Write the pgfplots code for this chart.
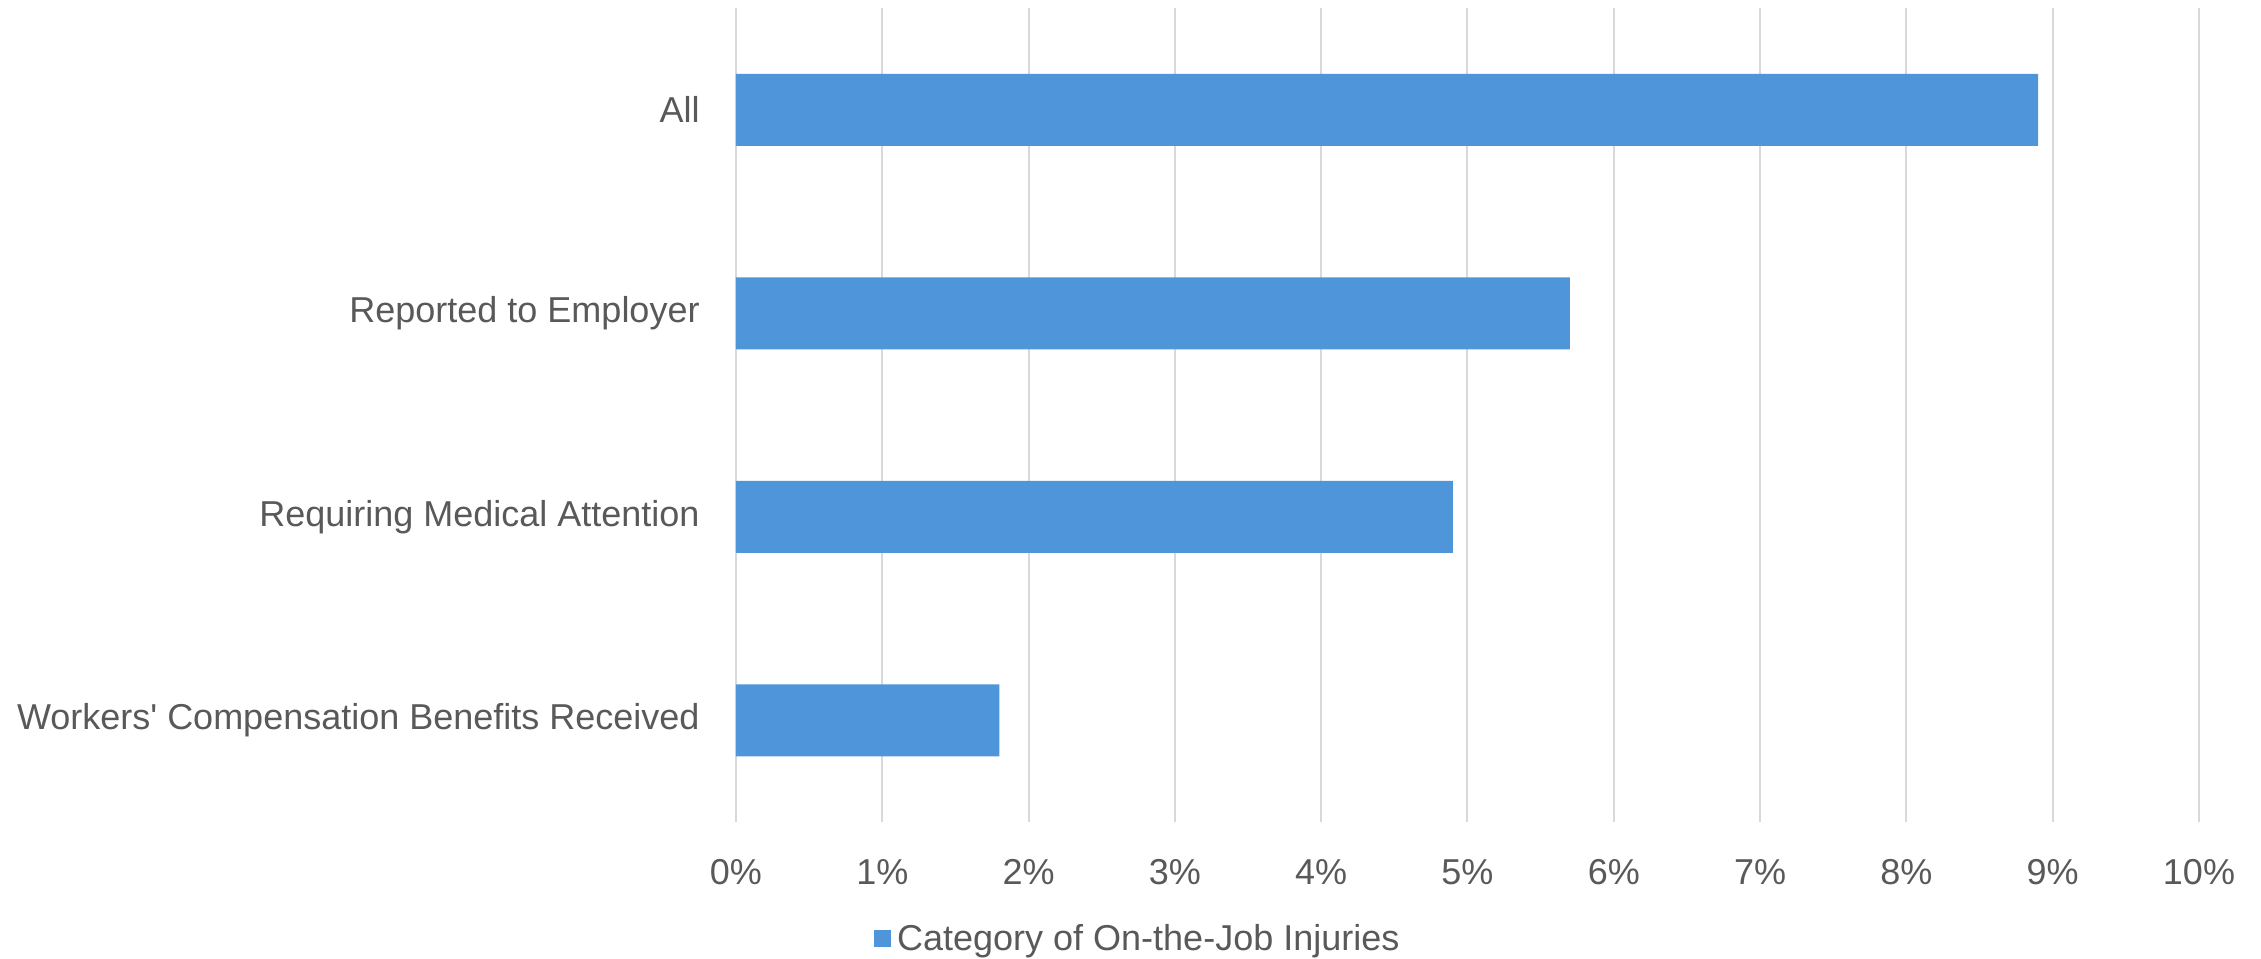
\documentclass[border=0pt]{standalone}
\usepackage{pgfplots}
\pgfplotsset{compat=1.18}
\usepackage{fontspec}
\setmainfont{Liberation Sans}
\definecolor{barblue}{HTML}{4E95D9}
\definecolor{gridgray}{HTML}{D9D9D9}
\definecolor{txtgray}{HTML}{595959}
\pgfplotstableread{
y val
0 1.8
1 4.9
2 5.7
3 8.9
}\datatable
\begin{document}
\begin{tikzpicture}
\path[use as bounding box] (-368pt,-68.5pt) rectangle (762.5pt,411pt);
\begin{axis}[
  at={(0,0)}, anchor=south west,
  scale only axis,
  width=731.5pt, height=407pt,
  xbar, bar width=36pt,
  xmin=0, xmax=10,
  ymin=-0.5, ymax=3.5,
  xtick={0,1,...,10},
  xticklabel={\pgfmathprintnumber{\tick}\%},
  ytick={0,1,2,3},
  yticklabels={Workers\textquotesingle\ Compensation Benefits Received, Requiring Medical Attention, Reported to Employer, All},
  axis line style={draw=none},
  major tick length=0pt,
  xmajorgrids,
  grid style={gridgray, line width=1pt},
  font=\fontsize{18}{21}\selectfont,
  /pgf/number format/assume math mode=true,
  tick label style={text=txtgray, font=\fontsize{18}{21}\selectfont},
  xticklabel style={anchor=center, yshift=-25pt, inner sep=0pt},
  yticklabel style={anchor=east, xshift=-18pt, inner sep=0pt},
  legend style={at={(0.276,-0.1437)}, anchor=center, draw=none, fill=none,
    text=txtgray, font=\fontsize{18}{21}\selectfont, inner sep=0pt,
    nodes={inner xsep=3pt}},
  legend image code/.code={\fill[barblue] (0pt,-4.25pt) rectangle (8.5pt,4.25pt);},
]
\addplot[fill=barblue, draw=none] table[x=val, y=y] {\datatable};
\addlegendentry{Category of On-the-Job Injuries}
\end{axis}
\end{tikzpicture}
\end{document}
